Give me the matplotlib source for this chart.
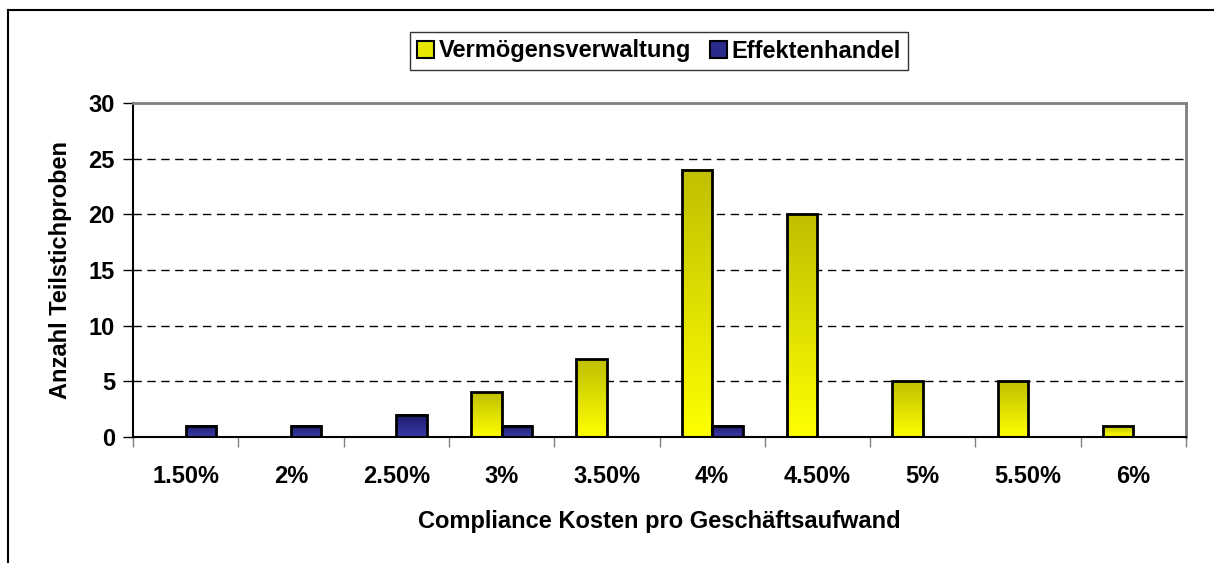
import numpy as np
import matplotlib
matplotlib.use("Agg")
import matplotlib.pyplot as plt
from matplotlib.colors import LinearSegmentedColormap
from matplotlib.lines import Line2D
from matplotlib.patches import Rectangle

plt.rcParams['font.family'] = ['Liberation Sans', 'DejaVu Sans']
plt.rcParams['font.weight'] = 'bold'

# data
categories = ["1.50%", "2%", "2.50%", "3%", "3.50%", "4%", "4.50%", "5%", "5.50%", "6%"]
vermoegen = [0, 0, 0, 4, 7, 24, 20, 5, 5, 1]
effekten = [1, 1, 2, 1, 0, 1, 0, 0, 0, 0]

yellow_cmap = LinearSegmentedColormap.from_list("yel", ["#ffff00", "#bfbf00"])
blue_cmap = LinearSegmentedColormap.from_list("blu", ["#3a3aaa", "#1c1c6a"])

fs = 17

fig = plt.figure(figsize=(12.14, 5.63), dpi=100)
ax = fig.add_axes([133/1214, 1-437/563, 1053/1214, 334/563])

x = np.arange(len(categories))
w = 0.29
bars1 = ax.bar(x - w/2, vermoegen, w, color="none", edgecolor="black", linewidth=2, zorder=3)
bars2 = ax.bar(x + w/2, effekten, w, color="none", edgecolor="black", linewidth=2, zorder=3)

# gradient fill per bar
grad = np.linspace(0, 1, 256).reshape(-1, 1)
for bars, cmap in [(bars1, yellow_cmap), (bars2, blue_cmap)]:
    for b in bars:
        h = b.get_height()
        if h <= 0:
            b.set_visible(False)
            continue
        x0 = b.get_x()
        ax.imshow(grad, cmap=cmap, aspect="auto", origin="lower",
                  extent=[x0, x0 + b.get_width(), 0, h], zorder=2.5)

ax.set_xlim(-0.5, len(categories) - 0.5)
ax.set_ylim(0, 30)
ax.set_yticks(range(0, 31, 5))
ax.set_xticks(x)
ax.set_xticklabels(categories, fontsize=fs, fontweight="bold")
ax.tick_params(axis="x", length=0, pad=20)
ax.set_xticks(np.arange(-0.5, len(categories)), minor=True)
ax.tick_params(axis="x", which="minor", length=7, width=1, color="#808080")
ax.tick_params(axis="y", labelsize=fs, length=7, width=1, direction="out", pad=6)
for lab in ax.get_yticklabels():
    lab.set_fontweight("bold")

for yv in range(5, 30, 5):
    ax.axhline(yv, color="black", linestyle=(0, (6, 4)), linewidth=1, zorder=1)

ax.spines["top"].set_color("#808080")
ax.spines["right"].set_color("#808080")
ax.spines["top"].set_linewidth(2)
ax.spines["right"].set_linewidth(2)
ax.spines["left"].set_linewidth(1.5)
ax.spines["bottom"].set_linewidth(1.5)

ax.set_xlabel("Compliance Kosten pro Geschäftsaufwand", fontsize=fs, fontweight="bold", labelpad=16)
ax.set_ylabel("Anzahl Teilstichproben", fontsize=fs, fontweight="bold", labelpad=12)

handles = [Rectangle((0, 0), 1, 1, facecolor="#e6e600", edgecolor="black", linewidth=1.5),
           Rectangle((0, 0), 1, 1, facecolor="#2a2a8a", edgecolor="black", linewidth=1.5)]
leg = fig.legend(handles, ["Vermögensverwaltung", "Effektenhandel"], loc="center",
                 bbox_to_anchor=(659/1214, 1-51/563), ncol=2, fontsize=fs, frameon=True,
                 fancybox=False, edgecolor="black", handlelength=0.7, handleheight=0.7,
                 handletextpad=0.2, columnspacing=0.8, borderpad=0.3)
leg.get_frame().set_linewidth(1)
for t in leg.get_texts():
    t.set_fontweight("bold")

# outer chart frame
fig.add_artist(Line2D([8/1214, 8/1214], [0, 1-10/563], color="black", linewidth=1.5))
fig.add_artist(Line2D([8/1214, 1], [1-10/563, 1-10/563], color="black", linewidth=1.5))

fig.savefig("out.png", dpi=100)
